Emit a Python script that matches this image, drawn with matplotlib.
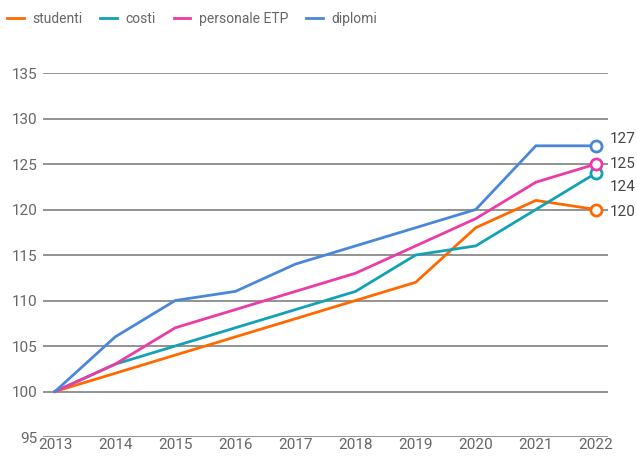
import matplotlib
matplotlib.use("Agg")
import matplotlib.pyplot as plt
from matplotlib.lines import Line2D

plt.rcParams['font.family'] = ['Roboto', 'DejaVu Sans']

years = [2013, 2014, 2015, 2016, 2017, 2018, 2019, 2020, 2021, 2022]
studenti = [100, 102, 104, 106, 108, 110, 112, 118, 121, 120]
costi = [100, 103, 105, 107, 109, 111, 115, 116, 120, 124]
personale = [100, 103, 107, 109, 111, 113, 116, 119, 123, 125]
diplomi = [100, 106, 110, 111, 114, 116, 118, 120, 127, 127]
names = ["studenti", "costi", "personale ETP", "diplomi"]
colors = ["#FF6A00", "#12A2B3", "#EC3BA6", "#4A87D9"]
yticks = [95, 100, 105, 110, 115, 120, 125, 130, 135]

W, H = 637, 461
fig = plt.figure(figsize=(W / 100, H / 100), dpi=100)
l, r = 43, 608
b, t = 437, 73
ax = fig.add_axes([l / W, 1 - b / H, (r - l) / W, (b - t) / H])
ax.set_xlim(2012.8, 2022.2)
ax.set_ylim(95, 135)
for s in ax.spines.values():
    s.set_visible(False)
ax.set_yticks(yticks)
ax.set_xticks(years)
ax.tick_params(length=0, labelsize=11, colors="#666666", pad=4)
ax.tick_params(axis='x', pad=1)
ax.grid(axis='y', color="#8a8a8a", linewidth=1.3)
ax.set_axisbelow(True)

series = [studenti, costi, personale, diplomi]
for vals, c in zip(series, colors):
    ax.plot(years, vals, color=c, linewidth=2, solid_joinstyle='miter', zorder=3)
    ax.plot(years[-1], vals[-1], 'o', ms=8, mfc='white', mec=c, mew=2, zorder=4, clip_on=False)

# end labels (offsets in points to avoid overlaps)
offsets = [-2, -10, 0, 5]
for vals, dy in zip(series, offsets):
    ax.annotate(str(vals[-1]), (years[-1], vals[-1]), xytext=(10, dy),
                textcoords='offset points', va='center', ha='left',
                fontsize=11, color="#444444", annotation_clip=False)

handles = [Line2D([0], [0], color=c, linewidth=2) for c in colors]
fig.legend(handles, names, loc='upper left', bbox_to_anchor=(-0.004, 0.995), ncol=4,
           frameon=False, fontsize=10, labelcolor="#666666", handlelength=1.2,
           columnspacing=1.3, handletextpad=0.6, borderaxespad=0.3)

fig.savefig("out.png", dpi=100, facecolor="white")
